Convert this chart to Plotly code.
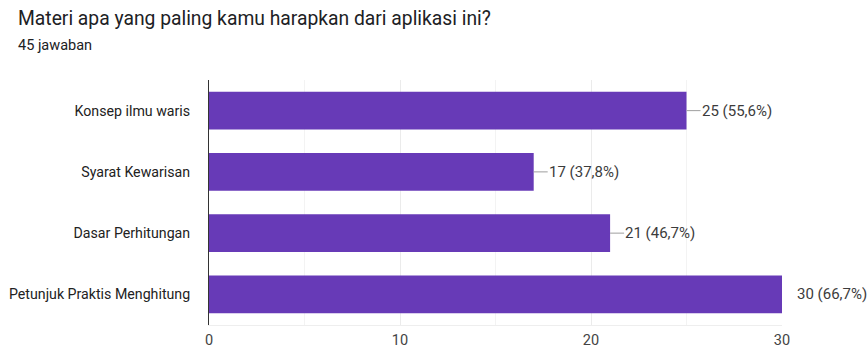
import plotly.graph_objects as go

categories = ["Konsep ilmu waris", "Syarat Kewarisan", "Dasar Perhitungan", "Petunjuk Praktis Menghitung"]
counts = [25, 17, 21, 30]
percents = ["55,6%", "37,8%", "46,7%", "66,7%"]
total_label = "45 jawaban"
title_text = "Materi apa yang paling kamu harapkan dari aplikasi ini?"
x_ticks = [0, 10, 20, 30]

W, H = 868, 348
L, R, T, B = 209, 86, 80, 23
PW, PH = W - L - R, H - T - B
FONT = "Roboto, Arial, sans-serif"

def px_x(px):
    return (px - L) / PW

def px_y(py):
    return (H - B - py) / PH

fig = go.Figure()
fig.add_trace(go.Bar(
    y=categories, x=counts, orientation="h",
    marker=dict(color="#673ab7", line=dict(width=0)),
    hoverinfo="skip",
))

for c, v, p in zip(categories, counts, percents):
    fig.add_shape(type="line", xref="x", yref="y", xsizemode="pixel",
                  xanchor=v, x0=0, x1=14, y0=c, y1=c,
                  line=dict(color="#9e9e9e", width=1), layer="above")
    fig.add_annotation(x=v, y=c, xref="x", yref="y", text=f"{v} ({p})",
                       showarrow=False, xanchor="left", xshift=13,
                       font=dict(family=FONT, size=15, color="#3c3c3c"))

fig.add_annotation(xref="paper", yref="paper", x=px_x(16), y=px_y(19), text=title_text,
                   showarrow=False, xanchor="left", yanchor="middle",
                   font=dict(family=FONT, size=19.3, color="#202124"))
fig.add_annotation(xref="paper", yref="paper", x=px_x(16), y=px_y(45), text=total_label,
                   showarrow=False, xanchor="left", yanchor="middle",
                   font=dict(family=FONT, size=14.5, color="#202124"))

fig.update_layout(
    width=W, height=H,
    margin=dict(l=L, r=R, t=T, b=B, pad=0, autoexpand=False),
    paper_bgcolor="white", plot_bgcolor="white",
    bargap=0.38, showlegend=False,
    font=dict(family=FONT, size=14.2, color="#222222"),
    xaxis=dict(range=[0, 30], tickvals=x_ticks, ticktext=[str(t) for t in x_ticks],
               showgrid=True, gridcolor="#ebebeb", gridwidth=1,
               minor=dict(dtick=5, showgrid=True, gridcolor="#f3f3f3"),
               zeroline=False, showline=True, linecolor="#eeeeee", linewidth=1,
               ticks="", ticklabelstandoff=2, automargin=False,
               tickfont=dict(size=14.5, color="#444444"), fixedrange=True),
    yaxis=dict(autorange="reversed", showline=True, linecolor="#333333", linewidth=1,
               showgrid=False, zeroline=False, ticks="", ticklabelstandoff=15,
               automargin=False,
               tickfont=dict(size=14.2, color="#222222"), fixedrange=True),
)

fig.write_html("out.html", config={"displayModeBar": False})
